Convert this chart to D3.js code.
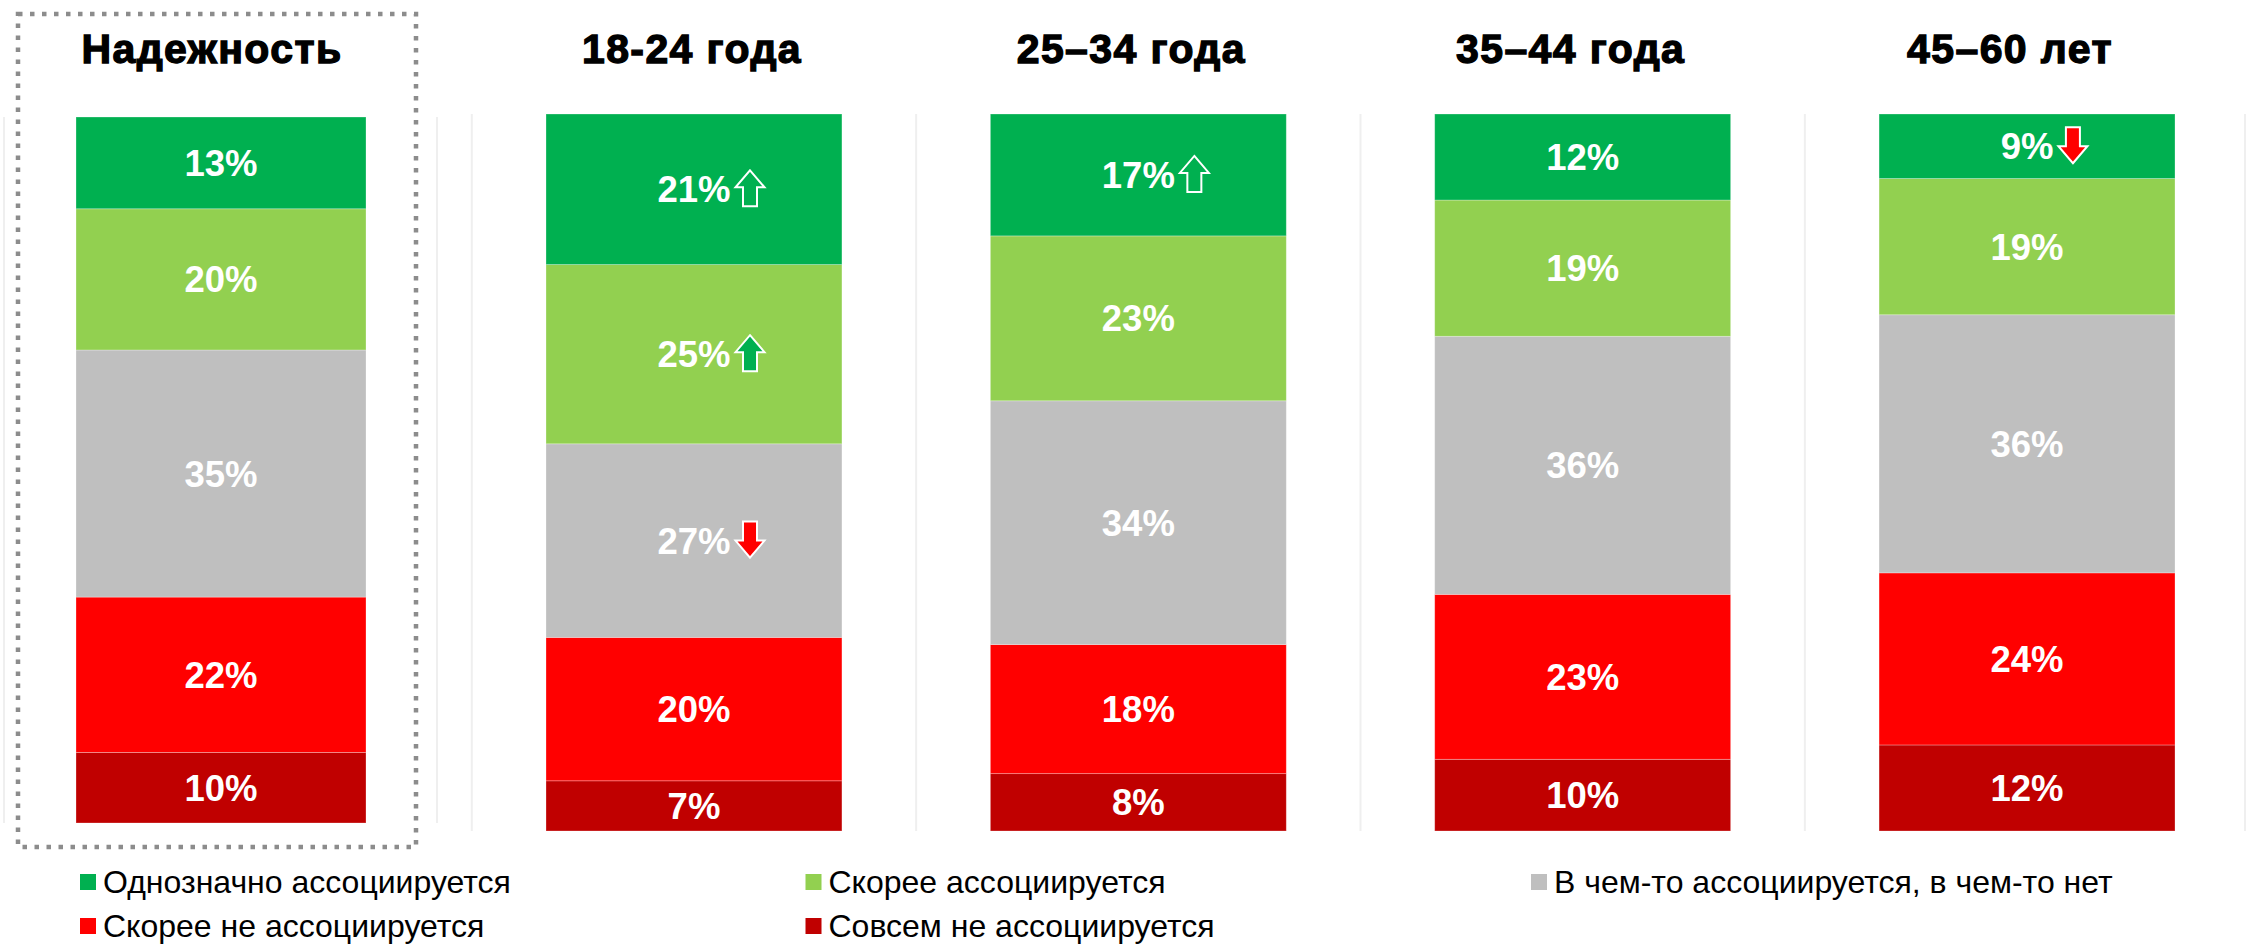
<!DOCTYPE html>
<html>
<head>
<meta charset="utf-8">
<script src="https://cdn.jsdelivr.net/npm/d3@7"></script>
<style>
  body { margin: 0; background: #fff; }
  svg { display: block; font-family: "Liberation Sans", Arial, sans-serif; }
</style>
</head>
<body>
<div id="chart"></div>
<script>
// groups: first one is the total, others are age bands
const groups = ["Надежность", "18-24 года", "25–34 года", "35–44 года", "45–60 лет"];
const categories = [
    "Однозначно ассоциируется",
    "Скорее ассоциируется",
    "В чем-то ассоциируется, в чем-то нет",
    "Скорее не ассоциируется",
    "Совсем не ассоциируется"
];
const definitely = [13, 21, 17, 12, 9];
const rather     = [20, 25, 23, 19, 19];
const partly     = [35, 27, 34, 36, 36];
const ratherNot  = [22, 20, 18, 23, 24];
const notAtAll   = [10, 7, 8, 10, 12];
// significance arrows: group, category index, kind
const arrows = [
    {group: "18-24 года", cat: 0, kind: "upHollow"},
    {group: "18-24 года", cat: 1, kind: "up"},
    {group: "18-24 года", cat: 2, kind: "down"},
    {group: "25–34 года", cat: 0, kind: "upHollow"},
    {group: "45–60 лет", cat: 0, kind: "down"}
];

const colors = ["#00B050", "#92D050", "#BFBFBF", "#FF0000", "#C00000"];

const width = 2247, height = 946;

const svg = d3.select("#chart").append("svg")
    .attr("width", width)
    .attr("height", height);

const data = groups.map(function(g, i) {
    return {group: g, c0: definitely[i], c1: rather[i], c2: partly[i], c3: ratherNot[i], c4: notAtAll[i]};
});
const keys = ["c0", "c1", "c2", "c3", "c4"];
// stack from the top: first category on top
const series = d3.stack().keys(keys.slice().reverse())(data);

const color = d3.scaleOrdinal().domain(keys).range(colors);

// total panel and age panels are separate charts
const xTotal = d3.scaleBand().domain([groups[0]]).range([76, 366]);
const xAge = d3.scaleBand().domain(groups.slice(1)).range([546, 2175]).paddingInner(0.334).paddingOuter(0);
const yTotal = d3.scaleLinear().domain([0, 100]).range([823, 117]);
const yAge = d3.scaleLinear().domain([0, 100]).range([831, 114]);

function xOf(g) { return g === groups[0] ? xTotal(g) : xAge(g); }
function bw(g) { return g === groups[0] ? xTotal.bandwidth() : xAge.bandwidth(); }
function yOf(g) { return g === groups[0] ? yTotal : yAge; }

// faint plot area borders
const half = xAge.step() * xAge.paddingInner() / 2;
const borders = [
    {x: xTotal(groups[0]) - 72, y0: 117, y1: 823},
    {x: xTotal(groups[0]) + xTotal.bandwidth() + 71, y0: 117, y1: 823}
];
groups.slice(1).forEach(function(g) { borders.push({x: xAge(g) - half, y0: 114, y1: 831}); });
borders.push({x: width - 2, y0: 114, y1: 831});
svg.append("g").selectAll("line")
    .data(borders)
    .enter().append("line")
    .attr("x1", d => d.x).attr("x2", d => d.x)
    .attr("y1", d => d.y0).attr("y2", d => d.y1)
    .attr("stroke", "#efefef")
    .attr("stroke-width", 2);

// bars
const layer = svg.append("g").selectAll("g")
    .data(series)
    .enter().append("g")
    .attr("fill", d => color(d.key));

layer.selectAll("rect")
    .data(d => d.map(function(p) { return {key: d.key, group: p.data.group, y0: p[0], y1: p[1]}; }))
    .enter().append("rect")
    .attr("x", d => xOf(d.group))
    .attr("width", d => bw(d.group))
    .attr("y", d => yOf(d.group)(d.y1))
    .attr("height", d => yOf(d.group)(d.y0) - yOf(d.group)(d.y1))
    .attr("stroke", "#ffffff")
    .attr("stroke-opacity", 0.35)
    .attr("stroke-width", 0.8);

// value labels
const labels = [];
series.forEach(function(s) {
    s.forEach(function(p) {
        const g = p.data.group;
        labels.push({
            key: s.key, group: g, value: p.data[s.key],
            cx: xOf(g) + bw(g) / 2,
            cy: (yOf(g)(p[0]) + yOf(g)(p[1])) / 2
        });
    });
});

const labelSel = svg.append("g").selectAll("text")
    .data(labels)
    .enter().append("text")
    .attr("x", d => d.cx)
    .attr("y", d => d.cy + 13)
    .attr("text-anchor", "middle")
    .attr("fill", "#ffffff")
    .attr("font-weight", "bold")
    .attr("font-size", 36.5)
    .text(d => d.value + "%");

// arrows next to labels
function arrowPath(kind) {
    // 29 wide, 36 tall, centred on 0,0
    const up = "M0,-18 L14.5,-1 L7,-1 L7,18 L-7,18 L-7,-1 L-14.5,-1 Z";
    const down = "M0,18 L14.5,1 L7,1 L7,-18 L-7,-18 L-7,1 L-14.5,1 Z";
    return kind === "down" ? down : up;
}
const arrowFill = {upHollow: "none", up: "#00B050", down: "#FF0000"};

arrows.forEach(function(a) {
    const key = keys[a.cat];
    const node = labelSel.filter(d => d.group === a.group && d.key === key);
    const d = node.datum();
    const tw = node.node().getComputedTextLength();
    svg.append("path")
        .attr("transform", "translate(" + (d.cx + tw / 2 + 5 + 14.5) + "," + (d.cy - 1) + ")")
        .attr("d", arrowPath(a.kind))
        .attr("fill", arrowFill[a.kind])
        .attr("stroke", "#ffffff")
        .attr("stroke-width", 2);
});

// titles
const titleAge = d3.scalePoint().domain(groups.slice(1)).range([692, 2010]);
svg.append("g").selectAll("text")
    .data(groups)
    .enter().append("text")
    .attr("x", (d, i) => i === 0 ? 212 : titleAge(d))
    .attr("y", 63)
    .attr("text-anchor", "middle")
    .attr("font-weight", "bold")
    .attr("font-size", 41)
    .attr("letter-spacing", 1.4)
    .attr("stroke", "#000")
    .attr("stroke-width", 1.3)
    .attr("fill", "#000")
    .text(d => d);

// dotted frame around the total panel
svg.append("rect")
    .attr("x", 18)
    .attr("y", 14)
    .attr("width", 398)
    .attr("height", 833)
    .attr("fill", "none")
    .attr("stroke", "#8c8c8c")
    .attr("stroke-width", 4.5)
    .attr("stroke-dasharray", "4.5 7.5");

// legend: three columns, two rows
const legX = d3.scaleLinear().domain([0, 2]).range([80, 1531]);
const legend = svg.append("g").selectAll("g")
    .data(categories)
    .enter().append("g")
    .attr("transform", (d, i) => "translate(" + legX(i % 3) + "," + (874 + Math.floor(i / 3) * 44) + ")");

legend.append("rect")
    .attr("width", 16)
    .attr("height", 16)
    .attr("fill", (d, i) => colors[i]);

legend.append("text")
    .attr("x", 23)
    .attr("y", 19)
    .attr("font-size", 32)
    .attr("fill", "#000")
    .text(d => d);
</script>
</body>
</html>
